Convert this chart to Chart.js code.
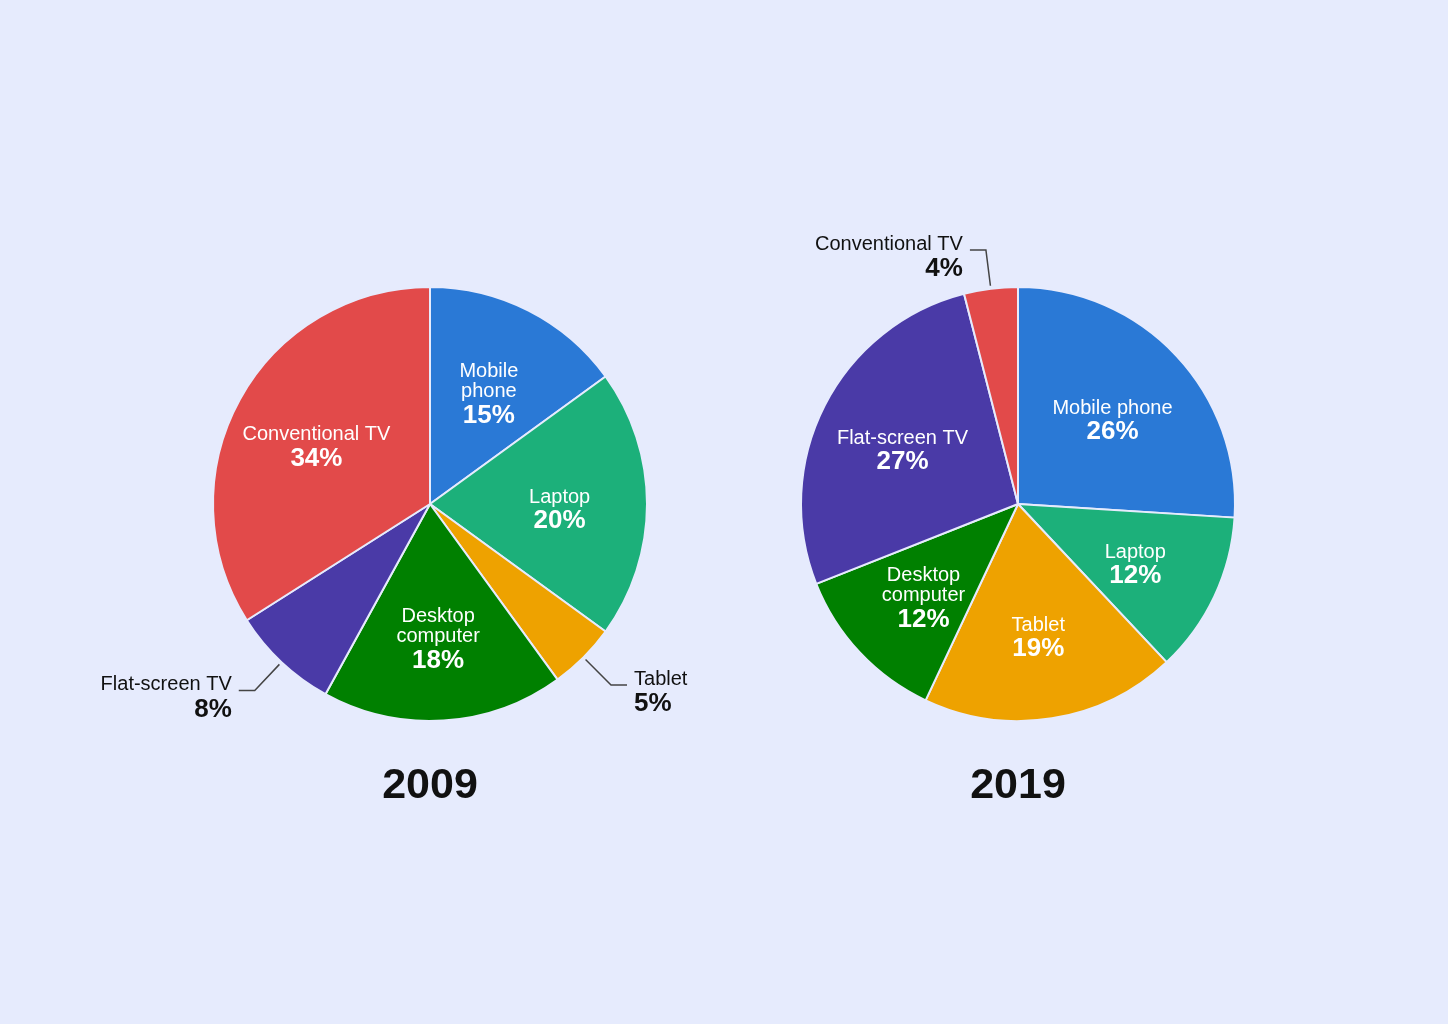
<!DOCTYPE html>
<html><head><meta charset="utf-8">
<script src="https://cdn.jsdelivr.net/npm/chart.js@4"></script>
<style>
html,body{margin:0;padding:0;background:#E6EBFD;width:1448px;height:1024px;overflow:hidden}
.wrap{position:absolute;width:720px;height:720px}
</style></head><body>
<div class="wrap" style="left:70px;top:144px"><canvas id="c1" width="720" height="720"></canvas></div>
<div class="wrap" style="left:658px;top:144px"><canvas id="c2" width="720" height="720"></canvas></div>
<script>
const categories = ["Mobile phone","Laptop","Tablet","Desktop computer","Flat-screen TV","Conventional TV"];
const values2009 = [15,20,5,18,8,34];
const values2019 = [26,12,19,12,27,4];
const years = ["2009","2019"];
const colors = ["#2A79D6","#1CB07A","#EEA200","#008000","#4A3AA7","#E24A4A"];
const BG = '#E6EBFD';

const FAM = '"Liberation Sans", Arial, sans-serif';
const NAME_FONT = '20px ' + FAM;
const PCT_FONT = 'bold 26px ' + FAM;
const TITLE_FONT = 'bold 43px ' + FAM;

const labelPlugin = {
  id: 'sliceLabels',
  afterDatasetsDraw(chart, args, opts) {
    const ctx = chart.ctx;
    const meta = chart.getDatasetMeta(0);
    const data = chart.data.datasets[0].data;
    const total = data.reduce((a, b) => a + b, 0);
    let cx = 0, cy = 0, R = 0;
    ctx.save();
    ctx.textBaseline = 'middle';
    meta.data.forEach((arc, i) => {
      const p = arc.getProps(['x', 'y', 'startAngle', 'endAngle', 'outerRadius'], true);
      cx = p.x; cy = p.y; R = p.outerRadius - 1;
      const mid = (p.startAngle + p.endAngle) / 2;
      const cos = Math.cos(mid), sin = Math.sin(mid);
      const name = chart.data.labels[i];
      const pct = Math.round(data[i] / total * 100) + '%';
      if (data[i] >= 10) {
        const r = R * 0.6;
        const px = p.x + r * cos, py = p.y + r * sin;
        ctx.font = NAME_FONT;
        const chord = 2 * r * Math.sin((p.endAngle - p.startAngle) / 2);
        let lines = [name];
        if (ctx.measureText(name).width > 0.85 * chord) lines = name.split(' ');
        const n = lines.length;
        const span = 20 * (n - 1) + 24;
        const first = py + 5 - span / 2;
        ctx.fillStyle = '#ffffff';
        ctx.textAlign = 'center';
        lines.forEach((ln, k) => ctx.fillText(ln, px, first + 20 * k));
        ctx.font = PCT_FONT;
        ctx.fillText(pct, px, first + 20 * (n - 1) + 24);
      } else {
        const sx = p.x + (R + 4) * cos, sy = p.y + (R + 4) * sin;
        const ex = p.x + (R + 40) * cos, ey = p.y + (R + 40) * sin;
        const dir = cos >= 0 ? 1 : -1;
        const hx = ex + dir * 16;
        ctx.strokeStyle = '#444444';
        ctx.lineWidth = 1.5;
        ctx.beginPath();
        ctx.moveTo(sx, sy);
        ctx.lineTo(ex, ey);
        ctx.lineTo(hx, ey);
        ctx.stroke();
        const tx = hx + dir * 7;
        ctx.textAlign = dir > 0 ? 'left' : 'right';
        ctx.fillStyle = '#111111';
        ctx.font = NAME_FONT;
        ctx.fillText(name, tx, ey - 6);
        ctx.font = PCT_FONT;
        ctx.fillText(pct, tx, ey + 19);
      }
    });
    ctx.font = TITLE_FONT;
    ctx.fillStyle = '#111111';
    ctx.textAlign = 'center';
    ctx.fillText(opts.year, cx, cy + 282);
    ctx.restore();
  }
};

function makeChart(id, values, year) {
  return new Chart(document.getElementById(id), {
    type: 'pie',
    data: {
      labels: categories,
      datasets: [{ data: values, backgroundColor: colors, borderColor: BG, borderWidth: 2 }]
    },
    options: {
      responsive: false,
      animation: false,
      events: [],
      layout: { padding: 142 },
      plugins: {
        legend: { display: false },
        tooltip: { enabled: false },
        title: { display: false },
        sliceLabels: { year: year }
      }
    },
    plugins: [labelPlugin]
  });
}

makeChart('c1', values2009, years[0]);
makeChart('c2', values2019, years[1]);
</script>
</body></html>
